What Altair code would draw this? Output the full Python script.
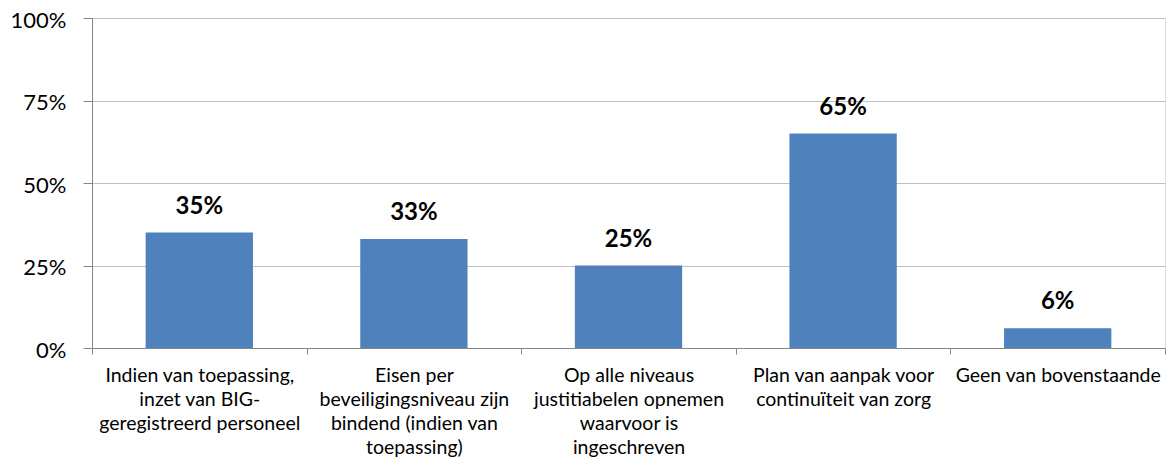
import altair as alt
import pandas as pd

categories = [
    "Indien van toepassing,|inzet van BIG-|geregistreerd personeel",
    "Eisen per|beveiligingsniveau zijn|bindend (indien van|toepassing)",
    "Op alle niveaus|justitiabelen opnemen|waarvoor is|ingeschreven",
    "Plan van aanpak voor|continuïteit van zorg",
    "Geen van bovenstaande",
]
values = [0.35, 0.33, 0.25, 0.65, 0.06]
labels = ["35%", "33%", "25%", "65%", "6%"]

df = pd.DataFrame({"cat": categories, "val": values, "lab": labels})

FONT = "Lato"

x = alt.X(
    "cat:N",
    sort=categories,
    title=None,
    scale=alt.Scale(paddingInner=0, paddingOuter=0),
    axis=alt.Axis(
        labelAngle=0,
        labelExpr="split(datum.label, '|')",
        labelFont=FONT,
        labelFontSize=19.5,
        labelColor="black",
        labelLineHeight=24,
        labelPadding=12,
        labelLimit=300,
        tickBand="extent",
        tickSize=6,
        tickColor="#868686",
        domainColor="#868686",
        labelBaseline="top",
        grid=False,
    ),
)

y = alt.Y(
    "val:Q",
    title=None,
    scale=alt.Scale(domain=[0, 1], nice=False),
    axis=alt.Axis(
        values=[0, 0.25, 0.5, 0.75, 1.0],
        format=".0%",
        labelFont=FONT,
        labelFontSize=22,
        labelColor="black",
        labelPadding=17,
        labelBaseline="alphabetic",
        labelOffset=9,
        tickSize=9,
        tickColor="#868686",
        domainColor="#868686",
        gridColor="#C0C0C0",
        grid=True,
    ),
)

bars = alt.Chart(df).mark_bar(color="#4F81BD", width=alt.RelativeBandSize(0.5)).encode(x=x, y=y)
text = alt.Chart(df).mark_text(
    font=FONT, fontSize=24, fontWeight="bold", baseline="alphabetic", dy=-19, color="black"
).encode(x=alt.X("cat:N", sort=categories), y="val:Q", text="lab:N")

chart = (
    alt.layer(bars, text)
    .properties(
        width=1073,
        height=330,
        autosize=alt.AutoSizeParams(type="none"),
        padding={"left": 84, "top": 10, "right": 3, "bottom": 118},
    )
    .configure_view(stroke=None)
    .configure(background="white")
)

chart.save("out.html", embed_options={"renderer": "svg", "actions": False})
